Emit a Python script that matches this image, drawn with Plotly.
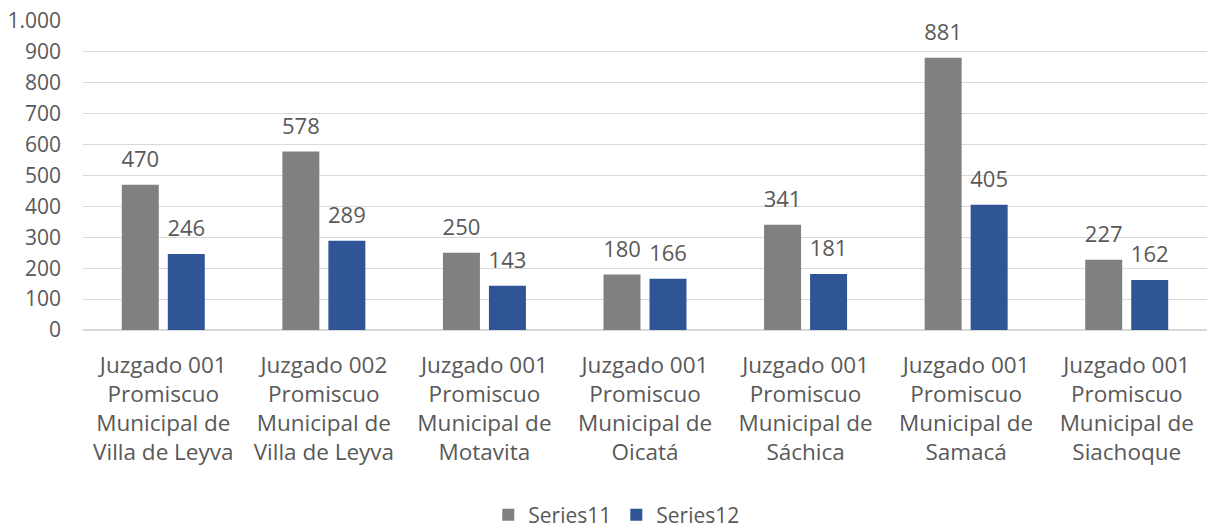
import plotly.graph_objects as go

categories = [
    "Juzgado 001<br>Promiscuo<br>Municipal de<br>Villa de Leyva",
    "Juzgado 002<br>Promiscuo<br>Municipal de<br>Villa de Leyva",
    "Juzgado 001<br>Promiscuo<br>Municipal de<br>Motavita",
    "Juzgado 001<br>Promiscuo<br>Municipal de<br>Oicatá",
    "Juzgado 001<br>Promiscuo<br>Municipal de<br>Sáchica",
    "Juzgado 001<br>Promiscuo<br>Municipal de<br>Samacá",
    "Juzgado 001<br>Promiscuo<br>Municipal de<br>Siachoque",
]
series11 = [470, 578, 250, 180, 341, 881, 227]
series12 = [246, 289, 143, 166, 181, 405, 162]
y_ticks = [0, 100, 200, 300, 400, 500, 600, 700, 800, 900, 1000]

FONT = "Open Sans"
TEXT = "#595959"

fig = go.Figure()
for name, vals, color in [("Series11", series11, "#808080"), ("Series12", series12, "#2F5597")]:
    fig.add_trace(go.Bar(
        x=categories, y=vals, name=name, offsetgroup=name,
        marker=dict(color=color, line=dict(width=0)),
    ))
    # value labels a little above each bar
    fig.add_trace(go.Scatter(
        x=categories, y=vals, offsetgroup=name, mode="markers+text",
        text=[str(v) for v in vals], textposition="top center",
        marker=dict(size=18, opacity=0),
        textfont=dict(size=22, color=TEXT, family=FONT),
        showlegend=False, hoverinfo="skip", cliponaxis=False,
    ))

fig.update_layout(
    width=1207, height=530,
    margin=dict(l=83, r=0, t=21, b=200),
    paper_bgcolor="white", plot_bgcolor="white",
    font=dict(family=FONT, color=TEXT, size=21),
    barmode="group", scattermode="group",
    bargap=0.427, bargroupgap=0.196,
    separators=",.",
    legend=dict(orientation="h", xref="container", yref="container",
                x=0.511, xanchor="center", y=0.028, yanchor="middle",
                font=dict(size=21, color=TEXT, family=FONT), itemwidth=30),
    xaxis=dict(tickfont=dict(size=22.5, color=TEXT), showline=False, ticks="",
               automargin=False, ticklabelstandoff=19),
    yaxis=dict(range=[0, 1000], tickvals=y_ticks, tickformat=",",
               tickfont=dict(size=21, color=TEXT), gridcolor="#D9D9D9",
               zerolinecolor="#D9D9D9", ticklabelstandoff=21, automargin=False,
               ticklabeloverflow="allow"),
)

# drop the default 8px body margin so the figure fills the window exactly
fig.write_html("out.html", config={"displayModeBar": False},
               post_script="document.body.style.margin='0';")
